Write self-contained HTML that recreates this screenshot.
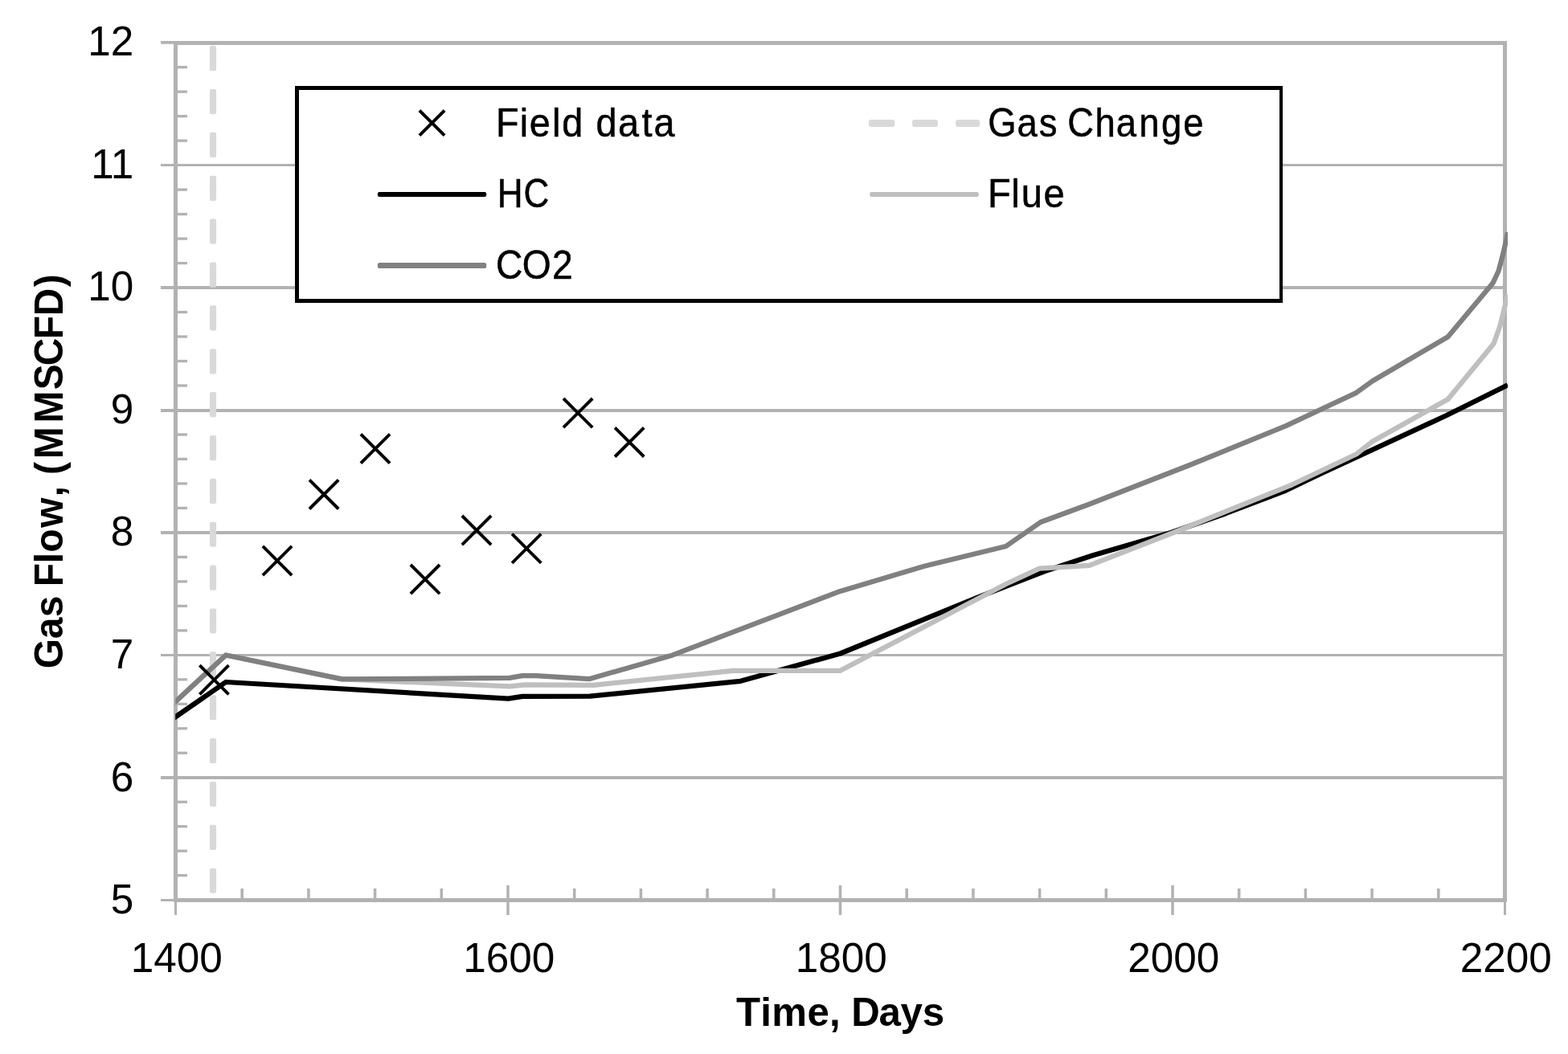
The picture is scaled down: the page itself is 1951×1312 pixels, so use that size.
<!DOCTYPE html>
<html lang="en">
<head>
<meta charset="utf-8">
<title>Gas Flow vs Time</title>
<style>
html,body{margin:0;padding:0;background:#fff;}
body{width:1951px;height:1312px;overflow:hidden;}
main,figure{margin:0;padding:0;display:block;}
svg{display:block;}
text{font-family:"Liberation Sans", sans-serif;fill:#000;}
.t{font-size:50.3px;}
.b{font-size:50.3px;font-weight:bold;}
</style>
</head>
<body>
<main>
<figure class="chart">
<svg width="1951" height="1312" viewBox="0 0 1951 1312">
<rect x="0" y="0" width="1951" height="1312" fill="#ffffff"/>
<defs>
<clipPath id="plotclip"><rect x="218.2" y="40" width="1657.8" height="1090"/></clipPath>
</defs>
<g id="grid-and-ticks" fill="#b2b2b2">
<rect x="200" y="1119" width="1672.5" height="3"/>
<rect x="200" y="966" width="1672.5" height="4"/>
<rect x="200" y="814" width="1672.5" height="3"/>
<rect x="200" y="661" width="1672.5" height="4"/>
<rect x="200" y="509" width="1672.5" height="4"/>
<rect x="200" y="356" width="1672.5" height="4"/>
<rect x="200" y="204" width="1672.5" height="3"/>
<rect x="200" y="51" width="1672.5" height="3.8"/>
<rect x="220" y="1088.06" width="13" height="3.3"/>
<rect x="220" y="1057.58" width="13" height="3.3"/>
<rect x="220" y="1027.09" width="13" height="3.3"/>
<rect x="220" y="996.61" width="13" height="3.3"/>
<rect x="220" y="935.64" width="13" height="3.3"/>
<rect x="220" y="905.15" width="13" height="3.3"/>
<rect x="220" y="874.66" width="13" height="3.3"/>
<rect x="220" y="844.18" width="13" height="3.3"/>
<rect x="220" y="783.21" width="13" height="3.3"/>
<rect x="220" y="752.72" width="13" height="3.3"/>
<rect x="220" y="722.24" width="13" height="3.3"/>
<rect x="220" y="691.75" width="13" height="3.3"/>
<rect x="220" y="630.78" width="13" height="3.3"/>
<rect x="220" y="600.29" width="13" height="3.3"/>
<rect x="220" y="569.81" width="13" height="3.3"/>
<rect x="220" y="539.32" width="13" height="3.3"/>
<rect x="220" y="478.35" width="13" height="3.3"/>
<rect x="220" y="447.86" width="13" height="3.3"/>
<rect x="220" y="417.38" width="13" height="3.3"/>
<rect x="220" y="386.89" width="13" height="3.3"/>
<rect x="220" y="325.92" width="13" height="3.3"/>
<rect x="220" y="295.44" width="13" height="3.3"/>
<rect x="220" y="264.95" width="13" height="3.3"/>
<rect x="220" y="234.46" width="13" height="3.3"/>
<rect x="220" y="173.49" width="13" height="3.3"/>
<rect x="220" y="143.01" width="13" height="3.3"/>
<rect x="220" y="112.52" width="13" height="3.3"/>
<rect x="220" y="82.04" width="13" height="3.3"/>
<rect x="217" y="1121" width="3" height="18"/>
<rect x="299.45" y="1106" width="3.5" height="14"/>
<rect x="382.15" y="1106" width="3.5" height="14"/>
<rect x="464.85" y="1106" width="3.5" height="14"/>
<rect x="547.55" y="1106" width="3.5" height="14"/>
<rect x="630.25" y="1102" width="3.5" height="37"/>
<rect x="712.95" y="1106" width="3.5" height="14"/>
<rect x="795.65" y="1106" width="3.5" height="14"/>
<rect x="878.35" y="1106" width="3.5" height="14"/>
<rect x="961.05" y="1106" width="3.5" height="14"/>
<rect x="1043.75" y="1102" width="3.5" height="37"/>
<rect x="1126.45" y="1106" width="3.5" height="14"/>
<rect x="1209.15" y="1106" width="3.5" height="14"/>
<rect x="1291.85" y="1106" width="3.5" height="14"/>
<rect x="1374.55" y="1106" width="3.5" height="14"/>
<rect x="1457.25" y="1102" width="3.5" height="37"/>
<rect x="1539.95" y="1106" width="3.5" height="14"/>
<rect x="1622.65" y="1106" width="3.5" height="14"/>
<rect x="1705.35" y="1106" width="3.5" height="14"/>
<rect x="1788.05" y="1106" width="3.5" height="14"/>
<rect x="1871" y="1121" width="3" height="18"/>
</g>
<rect id="plot-border" x="218.5" y="53.5" width="1654" height="1067" fill="none" stroke="#b2b2b2" stroke-width="5"/>
<g id="series" clip-path="url(#plotclip)" fill="none" stroke-linejoin="round">
<g fill="#d9d9d9">
<rect x="261" y="57.1" width="8.1" height="31.2" rx="2"/>
<rect x="261" y="110.97" width="8.1" height="31.2" rx="2"/>
<rect x="261" y="164.84" width="8.1" height="31.2" rx="2"/>
<rect x="261" y="218.71" width="8.1" height="31.2" rx="2"/>
<rect x="261" y="272.58" width="8.1" height="31.2" rx="2"/>
<rect x="261" y="326.45" width="8.1" height="31.2" rx="2"/>
<rect x="261" y="380.32" width="8.1" height="31.2" rx="2"/>
<rect x="261" y="434.19" width="8.1" height="31.2" rx="2"/>
<rect x="261" y="488.06" width="8.1" height="31.2" rx="2"/>
<rect x="261" y="541.93" width="8.1" height="31.2" rx="2"/>
<rect x="261" y="595.8" width="8.1" height="31.2" rx="2"/>
<rect x="261" y="649.67" width="8.1" height="31.2" rx="2"/>
<rect x="261" y="703.54" width="8.1" height="31.2" rx="2"/>
<rect x="261" y="757.41" width="8.1" height="31.2" rx="2"/>
<rect x="261" y="811.28" width="8.1" height="31.2" rx="2"/>
<rect x="261" y="865.15" width="8.1" height="31.2" rx="2"/>
<rect x="261" y="919.02" width="8.1" height="31.2" rx="2"/>
<rect x="261" y="972.89" width="8.1" height="31.2" rx="2"/>
<rect x="261" y="1026.76" width="8.1" height="31.2" rx="2"/>
<rect x="261" y="1080.63" width="8.1" height="31.2" rx="2"/>
</g>
<polyline id="series-hc" points="198.4,906.1 218.4,892.4 281,849 632.4,869.7 650.2,866.9 734,866.7 921.6,847.8 1045.5,813.5 1215.9,743.9 1300,711 1360,691.3 1457,663 1525,639.2 1600,610.5 1640,591.2 1800,517 1876,479.2" stroke="#000000" stroke-width="6.25"/>
<polyline id="series-flue" points="198.4,891.1 218.4,873.3 281,815.5 425.5,845.4 633.9,854.3 653.9,852.3 738.6,852.8 912.5,834.8 1045.6,834.8 1251.6,727 1293.2,707.7 1355.4,703.9 1460,663 1607.7,603.3 1687.7,565.3 1707.8,549.4 1801.6,497 1858.6,427.7 1866.3,406 1871.5,385 1876,367" stroke="#bfbfbf" stroke-width="6.25"/>
<polyline id="series-co2" points="198.4,891.1 218.4,873.3 281,815.5 425.5,845.4 633.9,843.9 650,841.1 667,841.1 733,845.2 837,815.4 1044.7,736.2 1150,704.7 1251.6,680 1294.7,650 1355.6,627.5 1480,579 1600,530.1 1687.7,488.8 1707.8,474.3 1801.6,419.2 1857.4,352.6 1864.6,337.2 1869.8,317.6 1873.9,300 1876,289" stroke="#808080" stroke-width="6.25"/>
</g>
<path id="series-field-data" d="M248.4 828.1L284.6 864.3M248.4 864.3L284.6 828.1 M326.9 679.9L363.1 716.1M326.9 716.1L363.1 679.9 M385 597.3L421.2 633.5M385 633.5L421.2 597.3 M448.9 540.4L485.1 576.6M448.9 576.6L485.1 540.4 M510.9 703L547.1 739.2M510.9 739.2L547.1 703 M574.9 642L611.1 678.2M574.9 678.2L611.1 642 M637.1 664.7L673.3 700.9M637.1 700.9L673.3 664.7 M701 496L737.2 532.2M701 532.2L737.2 496 M765.1 532.3L801.3 568.5M765.1 568.5L801.3 532.3" stroke="#000000" stroke-width="3.9" fill="none" stroke-linecap="butt"/>
<g id="legend">
<rect x="367" y="107" width="1229" height="270" fill="#000000"/>
<rect x="372" y="112" width="1220" height="260" fill="#ffffff"/>
<path d="M521.9 137.5L553.1 168.7M521.9 168.7L553.1 137.5" stroke="#000000" stroke-width="3.9" fill="none" stroke-linecap="butt"/>
<rect x="469.9" y="239" width="135.3" height="6" rx="2.2" fill="#000000"/>
<rect x="469.9" y="327" width="135.3" height="7" rx="2.6" fill="#808080"/>
<g fill="#d9d9d9">
<rect x="1080.9" y="148.9" width="32.4" height="9.2" rx="3"/>
<rect x="1135" y="148.9" width="32" height="9.2" rx="3"/>
<rect x="1189.1" y="148.9" width="30.1" height="9.2" rx="3"/>
</g>
<rect x="1082.2" y="239" width="135.6" height="6" rx="2.2" fill="#bfbfbf"/>
<text class="t" transform="translate(621.85 169.9) scale(0.9296 1)" x="-5.15 26.74 39.76 69.97 83.39 114.16 128.73 158.42 189.96 206.05" stroke="#000" stroke-width="0.55" stroke-linejoin="round">Field data</text>
<text class="t" transform="translate(621.85 257.8) scale(0.8765 1)" x="-3.61 33.82" stroke="#000" stroke-width="0.55" stroke-linejoin="round">HC</text>
<text class="t" transform="translate(619.9 346.5) scale(0.9191 1)" x="-3.28 32.4 73.14" stroke="#000" stroke-width="0.55" stroke-linejoin="round">CO2</text>
<text class="t" transform="translate(1231.5 170) scale(0.9026 1)" x="-2.43 37.63 67.76 95.29 107.16 145.01 174.29 205.79 236.65 266.82" stroke="#000" stroke-width="0.55" stroke-linejoin="round">Gas Change</text>
<text class="t" transform="translate(1233.8 257.9) scale(0.9341 1)" x="-5.11 26.27 39.51 69.26" stroke="#000" stroke-width="0.55" stroke-linejoin="round">Flue</text>
</g>
<g id="y-axis-labels">
<text class="t" transform="translate(166.4 1137.1) scale(1.0200 1.0400)" text-anchor="end">5</text>
<text class="t" transform="translate(166.4 984.53) scale(1.0200 1.0400)" text-anchor="end">6</text>
<text class="t" transform="translate(166.4 831.96) scale(1.0200 1.0400)" text-anchor="end">7</text>
<text class="t" transform="translate(166.4 679.39) scale(1.0200 1.0400)" text-anchor="end">8</text>
<text class="t" transform="translate(166.4 526.82) scale(1.0200 1.0400)" text-anchor="end">9</text>
<text class="t" transform="translate(166.4 374.25) scale(1.0200 1.0400)" text-anchor="end">10</text>
<text class="t" transform="translate(166.4 221.68) scale(1.0200 1.0400)" text-anchor="end">11</text>
<text class="t" transform="translate(166.4 69.11) scale(1.0200 1.0400)" text-anchor="end">12</text>
</g>
<g id="x-axis-labels">
<text class="t" transform="translate(219.7 1210) scale(1.0200 1.0400)" text-anchor="middle">1400</text>
<text class="t" transform="translate(633.22 1210) scale(1.0200 1.0400)" text-anchor="middle">1600</text>
<text class="t" transform="translate(1046.75 1210) scale(1.0200 1.0400)" text-anchor="middle">1800</text>
<text class="t" transform="translate(1460.28 1210) scale(1.0200 1.0400)" text-anchor="middle">2000</text>
<text class="t" transform="translate(1873.8 1210) scale(1.0200 1.0400)" text-anchor="middle">2200</text>
</g>
<g id="axis-titles">
<text class="b" transform="translate(916.9 1276.9) scale(0.9790 1)" x="-0.9 29.92 44.24 89.57 117.52 129.59 145.44 180.33 207.86 235.79">Time, Days</text>
<text class="b" transform="translate(78.06 830.1) rotate(-90) scale(0.9518 1)" x="-2.25 36.53 64.92 94.88 104.95 135.33 149.73 182.2 222.7 240.19 251.25 271.95 319.08 362.28 393.73 428.39 458.93 496.88">Gas Flow, (MMSCFD)</text>
</g>
</svg>
</figure>
</main>
</body>
</html>
